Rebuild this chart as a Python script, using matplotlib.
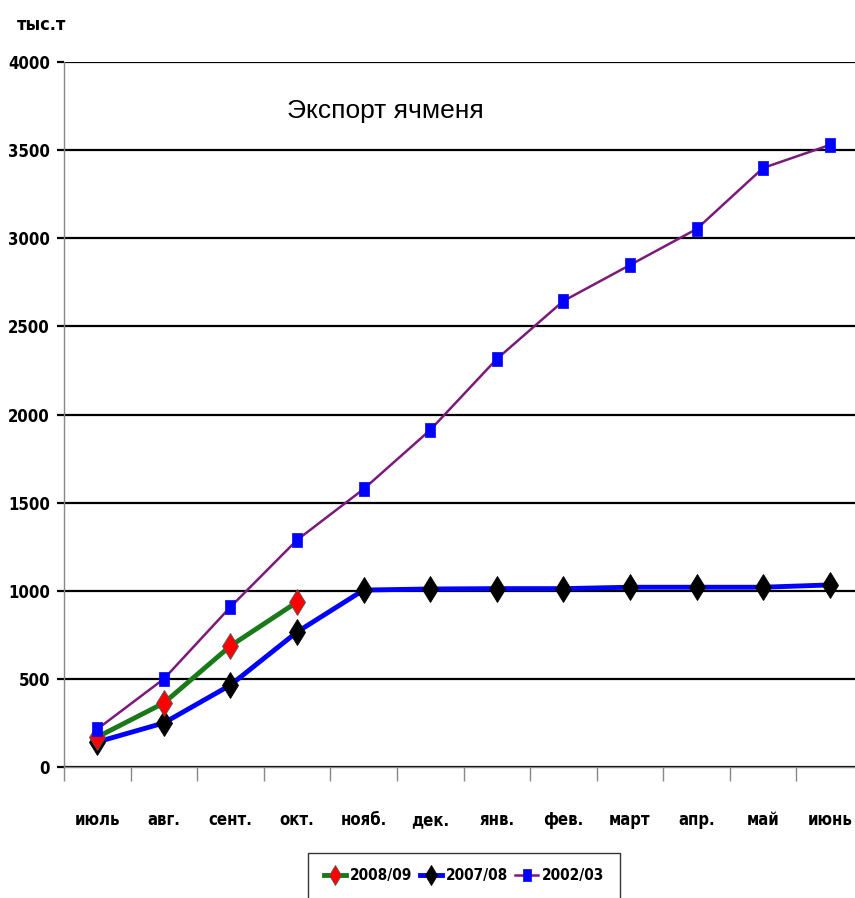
import matplotlib
matplotlib.use("Agg")
import matplotlib.pyplot as plt
from matplotlib import font_manager

entries = font_manager.fontManager.ttflist
names = {f.name for f in entries}
if "Liberation Sans Narrow" in names:
    tick_font = dict(family="Liberation Sans Narrow")
elif any(f.name == "DejaVu Sans" and str(f.stretch) in ("condensed", "semi-condensed") for f in entries):
    tick_font = dict(family="DejaVu Sans", stretch="condensed")
else:
    tick_font = dict(family="Liberation Sans")

months = ["июль", "авг.", "сент.", "окт.", "нояб.", "дек.", "янв.", "фев.", "март", "апр.", "май", "июнь"]
s2008 = [170, 363, 687, 936]
s2007 = [142, 250, 465, 766, 1004, 1010, 1012, 1012, 1020, 1020, 1020, 1033]
s2002 = [215, 500, 908, 1288, 1577, 1912, 2315, 2644, 2848, 3052, 3399, 3529]
yticks = [0, 500, 1000, 1500, 2000, 2500, 3000, 3500, 4000]

fig = plt.figure(figsize=(8.55, 8.98), dpi=100)
ax = fig.add_axes([64/855, 131/898, 799/855, 705/898])

rect = [(-0.36, -0.5), (0.36, -0.5), (0.36, 0.5), (-0.36, 0.5), (-0.36, -0.5)]

x = list(range(len(months)))
ax.plot(x[:len(s2008)], s2008, color="#1a7a1a", lw=3.5, marker="d", ms=13,
        mfc="red", mec="#555555", mew=0.6, label="2008/09", zorder=4)
ax.plot(x, s2007, color="#0000ff", lw=3.5, marker="d", ms=13,
        mfc="black", mec="black", mew=0.6, label="2007/08", zorder=3)
ax.plot(x, s2002, color="#7a1a7a", lw=1.8, marker=rect, ms=10,
        mfc="#0000ff", mec="#0000ff", mew=0.5, label="2002/03", zorder=5)

ax.set_xlim(-0.5, len(months) - 0.5)
ax.set_ylim(0, 4000)
ax.set_yticks(yticks)
ax.set_yticklabels([str(v) for v in yticks], fontsize=12, fontweight="bold", **tick_font)
ax.yaxis.grid(True, color="black", lw=1.6)
ax.set_axisbelow(True)

ax.set_xticks([i + 0.5 for i in range(-1, len(months))], minor=False)
ax.set_xticklabels([""] * (len(months) + 1))
ax.set_xticks(x, minor=True)
ax.set_xticklabels(months, minor=True, fontsize=12, fontweight="bold", **tick_font)
ax.tick_params(axis="x", which="minor", length=0, pad=32)
ax.tick_params(axis="x", which="major", length=10, color="#888888", width=1)
ax.tick_params(axis="y", length=5, color="black", width=1.6, pad=5)

for s in ["top", "right"]:
    ax.spines[s].set_visible(False)
ax.spines["left"].set_color("#888888")
ax.spines["bottom"].set_color("#888888")
ax.spines["left"].set_linewidth(1)
ax.spines["bottom"].set_linewidth(1)

ax.text((287 - 64) / 799, 0.93, "Экспорт ячменя", transform=ax.transAxes, fontsize=19,
        fontfamily="Liberation Sans", va="center", ha="left")
fig.text(17/855, 1 - 25/898, "тыс.т", fontsize=13, fontweight="bold", va="center", ha="left", **tick_font)

leg = fig.legend(loc="upper center", bbox_to_anchor=(464/855, 1 - 853/898), ncol=3,
                 frameon=True, fancybox=False, edgecolor="black", handlelength=1.5,
                 handletextpad=0.25, columnspacing=0.45, borderpad=1.0, borderaxespad=0,
                 markerscale=0.8, prop=dict(size=11, weight="bold", **tick_font))
leg.get_frame().set_linewidth(1)

fig.savefig("out.png", dpi=100)
